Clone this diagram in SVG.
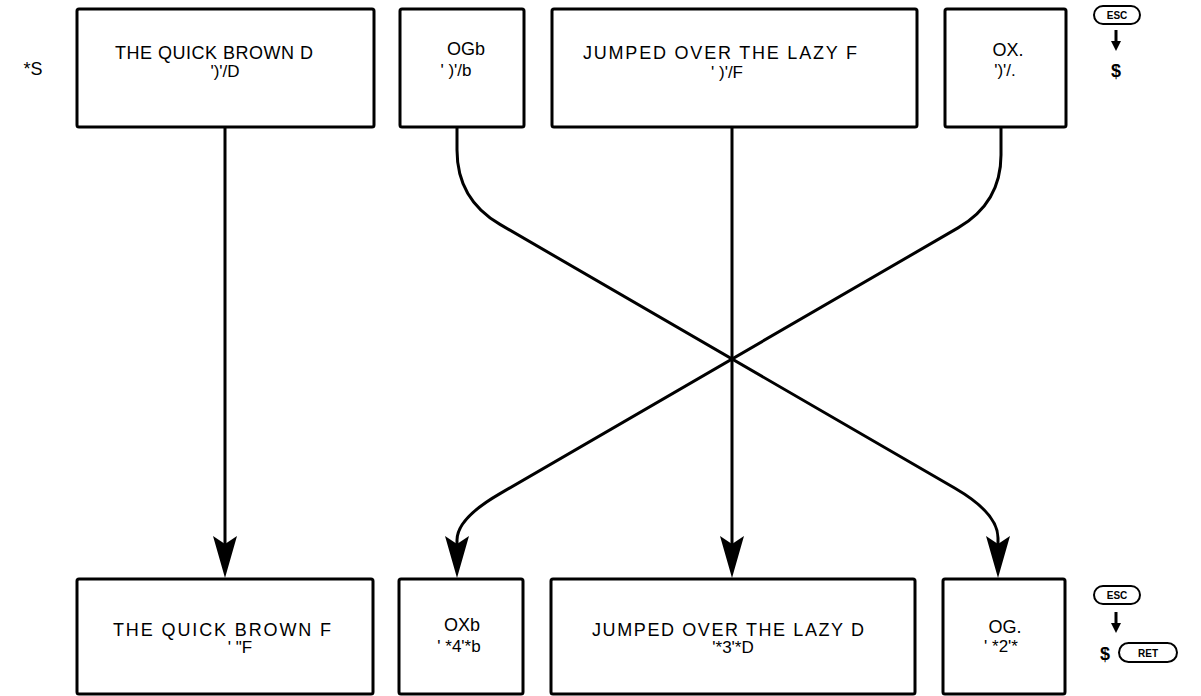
<svg xmlns="http://www.w3.org/2000/svg" width="1201" height="696" viewBox="0 0 1201 696">
  <style>
    .box { fill: #fff; stroke: #000; stroke-width: 3; }
    .lbl { font-family: "Liberation Sans", Arial, sans-serif; font-size: 18px; fill: #000; text-anchor: middle; }
    .sub { font-family: "Liberation Sans", Arial, sans-serif; font-size: 17px; fill: #000; text-anchor: middle; }
    .wire { fill: none; stroke: #000; stroke-width: 3; }
    .key { fill: #fff; stroke: #000; stroke-width: 2; }
    .keytxt { font-family: "Liberation Sans", Arial, sans-serif; font-size: 10px; font-weight: bold; fill: #000; text-anchor: middle; }
    .dollar { font-family: "Liberation Sans", Arial, sans-serif; font-size: 18px; font-weight: bold; fill: #000; text-anchor: middle; }
  </style>
  <defs>
    <marker id="dart" markerUnits="userSpaceOnUse" viewBox="0 0 42 24" refX="34" refY="12" markerWidth="42" markerHeight="24" orient="auto">
      <path d="M0,0 L42,12 L0,24 L8,12 z" fill="#000"/>
    </marker>
    <marker id="small" markerUnits="userSpaceOnUse" viewBox="0 0 10 10" refX="4" refY="5" markerWidth="10" markerHeight="10" orient="auto">
      <path d="M0,0 L10,5 L0,10 z" fill="#000"/>
    </marker>
  </defs>

  <rect width="1201" height="696" fill="#fff"/>

  <text class="lbl" x="33" y="75">*S</text>

  <!-- upper row -->
  <g id="top-quick">
    <rect class="box" x="77" y="9" width="297" height="118" rx="2"/>
    <text class="lbl" x="214" y="59" textLength="198" lengthAdjust="spacing">THE QUICK BROWN D</text>
    <text class="sub" x="225" y="77">')'/D</text>
  </g>
  <g id="top-ogb">
    <rect class="box" x="400" y="9" width="124" height="118" rx="2"/>
    <text class="lbl" x="466" y="55">OGb</text>
    <text class="sub" x="456" y="76">' )'/b</text>
  </g>
  <g id="top-jumped">
    <rect class="box" x="552" y="9" width="365" height="118" rx="2"/>
    <text class="lbl" x="720" y="59" textLength="274" lengthAdjust="spacing">JUMPED OVER THE LAZY F</text>
    <text class="sub" x="727" y="78">' )'/F</text>
  </g>
  <g id="top-ox">
    <rect class="box" x="945" y="9" width="121" height="118" rx="2"/>
    <text class="lbl" x="1008" y="56">OX.</text>
    <text class="sub" x="1005" y="76">')'/.</text>
  </g>

  <!-- lower row -->
  <g id="bot-quick">
    <rect class="box" x="77" y="579" width="296" height="115" rx="2"/>
    <text class="lbl" x="222" y="636" textLength="218" lengthAdjust="spacing">THE QUICK BROWN F</text>
    <text class="sub" x="240" y="653">' "F</text>
  </g>
  <g id="bot-oxb">
    <rect class="box" x="399" y="579" width="124" height="115" rx="2"/>
    <text class="lbl" x="462" y="631">OXb</text>
    <text class="sub" x="459" y="652">' *4'*b</text>
  </g>
  <g id="bot-jumped">
    <rect class="box" x="551" y="579" width="364" height="115" rx="2"/>
    <text class="lbl" x="728" y="636" textLength="272" lengthAdjust="spacing">JUMPED OVER THE LAZY D</text>
    <text class="sub" x="733" y="653">'*3'*D</text>
  </g>
  <g id="bot-og">
    <rect class="box" x="943" y="579" width="122" height="115" rx="2"/>
    <text class="lbl" x="1005" y="633">OG.</text>
    <text class="sub" x="1001" y="652">' *2'*</text>
  </g>

  <!-- key legend, upper -->
  <g id="key-esc-top">
    <rect class="key" x="1094" y="6" width="46" height="18" rx="9"/>
    <text class="keytxt" x="1117" y="19">ESC</text>
    <path class="wire" d="M1116,30 L1116,45" stroke-width="2.5" marker-end="url(#small)"/>
    <text class="dollar" x="1116" y="77">$</text>
  </g>

  <!-- key legend, lower -->
  <g id="key-esc-bottom">
    <rect class="key" x="1094" y="586" width="46" height="18" rx="9"/>
    <text class="keytxt" x="1117" y="599">ESC</text>
    <path class="wire" d="M1116,612 L1116,627" stroke-width="2.5" marker-end="url(#small)"/>
    <text class="dollar" x="1105" y="660">$</text>
    <rect class="key" x="1119" y="643" width="58" height="19" rx="9.5"/>
    <text class="keytxt" x="1148" y="656.5">RET</text>
  </g>

  <!-- connectors -->
  <g id="connectors">
    <path class="wire" d="M225,127 L225,570" marker-end="url(#dart)"/>
    <path class="wire" d="M732,127 L732,570" marker-end="url(#dart)"/>
    <path class="wire" d="M457,127 L457,150 Q457,199.5 500,224.4 L955,488.3 Q998,513.3 998,538 L998,570" marker-end="url(#dart)"/>
    <path class="wire" d="M1001,127 L1001,155 Q1001,203 958,227.9 L500,493.6 Q457,518.5 457,540 L457,570" marker-end="url(#dart)"/>
  </g>
</svg>
